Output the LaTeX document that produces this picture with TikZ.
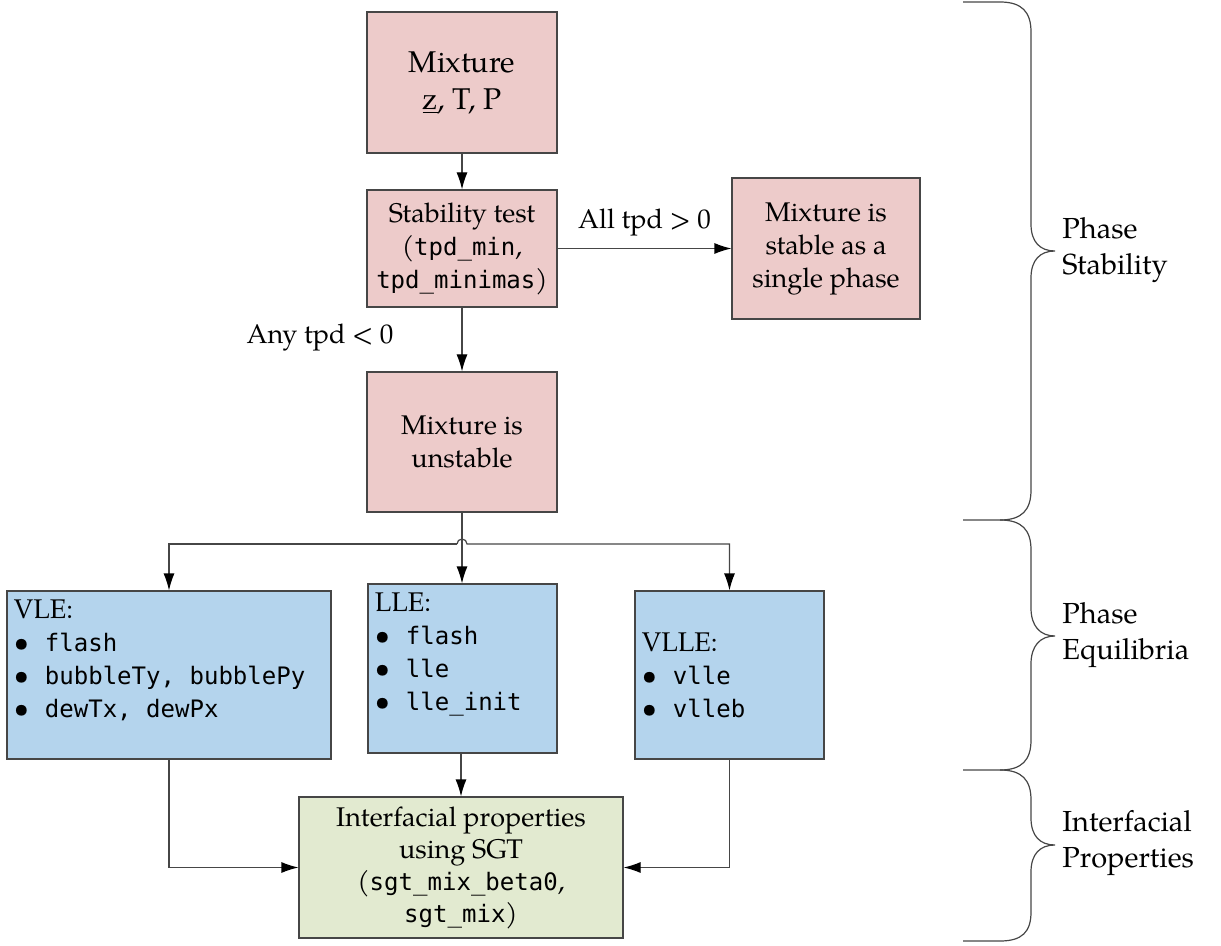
\documentclass[tikz,border=0pt]{standalone}
\usepackage{fontspec}
\setmainfont{TeX Gyre Pagella}
\setmonofont[Scale=0.89]{DejaVu Sans Mono}
\usetikzlibrary{arrows.meta,calc}

\definecolor{stabpink}{RGB}{237,203,202}
\definecolor{equiblue}{RGB}{180,212,237}
\definecolor{ifgreen}{RGB}{226,234,208}
\definecolor{edgegray}{RGB}{70,70,70}

\newcommand{\listbullet}{\textbullet\hspace{8pt}}

\begin{document}
\begin{tikzpicture}[x=0.5pt,y=-0.5pt]

	\tikzstyle{box}=[draw=edgegray,line width=0.6pt,inner sep=0pt,
		align=center,font=\fontsize{13.5}{16.5}\selectfont]
	\tikzstyle{stabbox}=[box,fill=stabpink,
		minimum width=95pt,minimum height=70.5pt]
	\tikzstyle{equibox}=[box,fill=equiblue,minimum height=84pt]
	\tikzstyle{ifbox}=[box,fill=ifgreen,
		minimum width=162pt,minimum height=70.5pt,
		font=\fontsize{13.5}{16}\selectfont]
	\tikzstyle{listtext}=[align=left,inner sep=0pt,
		font=\fontsize{13.5}{16.5}\selectfont]
	\tikzstyle{label}=[inner sep=0pt,font=\fontsize{13.5}{16.5}\selectfont]
	\tikzstyle{arrow}=[draw=edgegray,line width=0.6pt,
		-{Latex[length=8.5pt,width=5.5pt,color=black]}]
	\tikzstyle{brace}=[draw=edgegray,line width=0.6pt]
	\tikzstyle{region}=[align=left,anchor=west,inner sep=0pt,
		font=\fontsize{14.5}{18}\selectfont]

	\useasboundingbox (0,0) rectangle (1221,946);

	% phase stability
	\node[stabbox,font=\fontsize{15}{18.5}\selectfont]
		(mixture) at (462,82.5) {Mixture\\\underline{z}, T, P};
	\node[stabbox,minimum height=58.5pt]
		(stability) at (462,248.5) {Stability test\\(\texttt{tpd\_min},\\\texttt{tpd\_minimas})};
	\node[stabbox,minimum width=94pt]
		(stable) at (826,248.5) {Mixture is\\stable as a\\single phase};
	\node[stabbox,minimum height=70pt]
		(unstable) at (462,442) {Mixture is\\unstable};

	% phase equilibria
	\node[equibox,minimum width=162pt]	(vle)	at (169,675) {};
	\node[equibox,minimum width=94.5pt,minimum height=84.5pt]
		(lle)	at (462.5,668.5) {};
	\node[equibox,minimum width=94.5pt]	(vlle)	at (729.5,675) {};

	\node[listtext,anchor=north west] (vletext) at ($(vle.north west)+(7,9)$)
		{VLE:\\\listbullet\texttt{flash}\\\listbullet\texttt{bubbleTy, bubblePy}\\\listbullet\texttt{dewTx, dewPx}};
	\node[listtext,anchor=north west] (lletext) at ($(lle.north west)+(7,9)$)
		{LLE:\\\listbullet\texttt{flash}\\\listbullet\texttt{lle}\\\listbullet\texttt{lle\_init}};
	\node[listtext,anchor=west] (vlletext) at ($(vlle.west)+(7,0)$)
		{VLLE:\\\listbullet\texttt{vlle}\\\listbullet\texttt{vlleb}};

	% interfacial properties
	\node[ifbox] (sgt) at (461,867.5)
		{Interfacial properties\\using SGT\\(\texttt{sgt\_mix\_beta0},\\\texttt{sgt\_mix})};

	% connectors
	\draw[arrow] (mixture) -- (stability);
	\draw[arrow] (stability) -- node[label,above=6pt] (alltpd) {All tpd > 0} (stable);
	\draw[arrow] (stability.south) -- (stability.south |- unstable.north);
	\node[label] (anytpd) at (320,338) {Any tpd < 0};

	\coordinate (branch) at (462,544);
	\draw[arrow] (unstable.south) -- (unstable.south |- lle.north);
	\draw[arrow] ($(branch)+(-5,0)$) -| (vle.north);
	\draw[arrow] ($(branch)+(-5,0)$) arc[start angle=180,end angle=360,radius=5]
		-| (vlle.north);

	\draw[arrow] (vle.south) |- (sgt.west);
	\draw[arrow] (lle.south -| sgt.north) -- (sgt.north);
	\draw[arrow] (vlle.south) |- (sgt.east);

	% braces
	\draw[brace] (963,2) -- (1000,2)
		.. controls (1022,2) and (1031,12) .. (1031,32) -- (1031,224)
		.. controls (1031,242) and (1040,251) .. (1055,251)
		.. controls (1040,251) and (1031,260) .. (1031,278) -- (1031,490)
		.. controls (1031,510) and (1022,520) .. (1000,520) -- (963,520);
	\draw[brace] (1000,520)
		.. controls (1022,520) and (1031,530) .. (1031,550) -- (1031,608)
		.. controls (1031,626) and (1040,636) .. (1055,636)
		.. controls (1040,636) and (1031,646) .. (1031,664) -- (1031,740)
		.. controls (1031,760) and (1022,770) .. (1000,770) -- (963,770);
	\draw[brace] (1000,770)
		.. controls (1022,770) and (1031,780) .. (1031,800) -- (1031,818)
		.. controls (1031,836) and (1040,845) .. (1055,845)
		.. controls (1040,845) and (1031,854) .. (1031,872) -- (1031,912)
		.. controls (1031,932) and (1022,941) .. (1000,941) -- (963,941);

	\node[region] (stabilitylabel)	at (1062,250) {Phase\\Stability};
	\node[region] (equilibrialabel)	at (1062,635) {Phase\\Equilibria};
	\node[region] (interfaciallabel)	at (1062,843) {Interfacial\\Properties};

\end{tikzpicture}
\end{document}
